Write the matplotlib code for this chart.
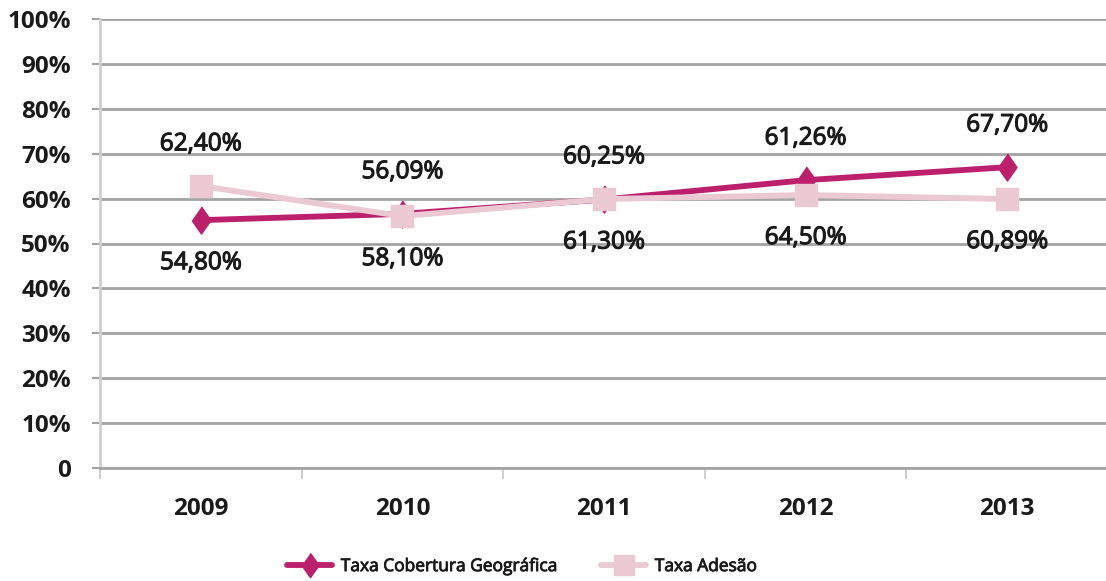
import numpy as np
import matplotlib.pyplot as plt
import matplotlib as mpl
import matplotlib.patheffects as pe
from matplotlib.ticker import FuncFormatter

mpl.rcParams.update({
    "font.family": ["Open Sans", "DejaVu Sans"],
    "font.size": 13,
})

years = ["2009", "2010", "2011", "2012", "2013"]
cobertura = [55.2, 56.6, 59.8, 64.1, 67.0]
adesao = [62.8, 56.1, 59.9, 60.8, 59.9]
labels_above = ["62,40%", "56,09%", "60,25%", "61,26%", "67,70%"]
labels_below = ["54,80%", "58,10%", "61,30%", "64,50%", "60,89%"]

C_COB = "#BC1F6B"
C_ADE = "#EBC9D3"
GRID = "#A3A3A3"
AXIS = "#CFCFCF"
TXT = "#1A1A1A"
semi = [pe.withStroke(linewidth=0.8, foreground=TXT)]

fig = plt.figure(figsize=(11.06, 5.81), dpi=100)
ax = fig.add_axes([100 / 1106, 113 / 581, 1008 / 1106, 449 / 581])

x = np.arange(len(years))
diamond = [(0, 1), (0.7, 0), (0, -1), (-0.7, 0)]
ax.plot(x, cobertura, color=C_COB, lw=4.2, marker=diamond, ms=19.5,
        label="Taxa Cobertura Geográfica", zorder=3, solid_capstyle="round")
ax.plot(x, adesao, color=C_ADE, lw=4.2, marker="s", ms=16,
        label="Taxa Adesão", zorder=4, solid_capstyle="round")

# data labels: one above the higher point, one below the lower point
for i in range(len(years)):
    hi = max(cobertura[i], adesao[i])
    lo = min(cobertura[i], adesao[i])
    ax.annotate(labels_above[i], (x[i], hi), xytext=(0, 30), textcoords="offset points",
                ha="center", va="center", fontsize=17.5, color=TXT, path_effects=semi)
    ax.annotate(labels_below[i], (x[i], lo), xytext=(0, -31), textcoords="offset points",
                ha="center", va="center", fontsize=17.5, color=TXT, path_effects=semi)

ax.set_xlim(-0.5, 4.5)
ax.set_ylim(0, 100)
ax.set_yticks(np.arange(0, 101, 10))
ax.yaxis.set_major_formatter(FuncFormatter(lambda v, p: "0" if v == 0 else f"{v:.0f}%"))
ax.yaxis.grid(True, color=GRID, lw=2)
ax.set_axisbelow(True)

ax.set_xticks(np.arange(-0.5, 4.6, 1))
ax.set_xticklabels([])
ax.set_xticks(x, minor=True)
ax.set_xticklabels(years, minor=True)
ax.tick_params(axis="x", which="major", length=8, width=1.5, color=AXIS)
ax.tick_params(axis="x", which="minor", length=0, pad=21, labelsize=17.5, labelcolor=TXT)
ax.tick_params(axis="y", length=6, width=1.5, color=GRID, pad=15, labelsize=17.5, labelcolor=TXT)
for lab in ax.get_xticklabels(minor=True) + ax.get_yticklabels():
    lab.set_fontweight("bold")

for s in ["top", "right"]:
    ax.spines[s].set_visible(False)
ax.spines["left"].set_color(AXIS)
ax.spines["left"].set_linewidth(2)
ax.spines["bottom"].set_color(GRID)
ax.spines["bottom"].set_linewidth(2)

leg = fig.legend(loc="center", bbox_to_anchor=(522 / 1106, 14 / 581), ncol=2, frameon=False,
                 fontsize=12.5, handlelength=2.6, handletextpad=0.5, columnspacing=2.5,
                 markerscale=0.9)
for t in leg.get_texts():
    t.set_color(TXT)
    t.set_path_effects([pe.withStroke(linewidth=0.6, foreground=TXT)])

fig.savefig("out.png", dpi=100)
